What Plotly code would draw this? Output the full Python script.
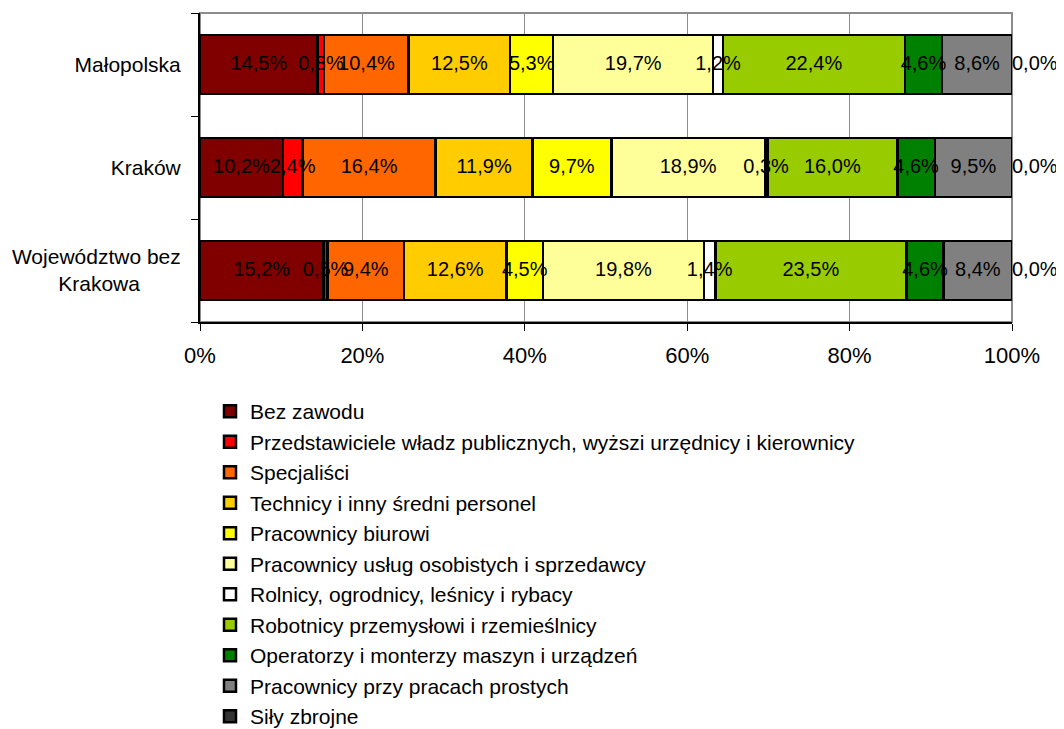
import plotly.graph_objects as go

categories = ["Małopolska", "Kraków", "Województwo bez Krakowa"]
category_labels = ["Małopolska", "Kraków", "Województwo bez<br>Krakowa" + "&nbsp;" * 7]

series_names = [
    "Bez zawodu",
    "Przedstawiciele władz publicznych, wyższi urzędnicy i kierownicy",
    "Specjaliści",
    "Technicy i inny średni personel",
    "Pracownicy biurowi",
    "Pracownicy usług osobistych i sprzedawcy",
    "Rolnicy, ogrodnicy, leśnicy i rybacy",
    "Robotnicy przemysłowi i rzemieślnicy",
    "Operatorzy i monterzy maszyn i urządzeń",
    "Pracownicy przy pracach prostych",
    "Siły zbrojne",
]

bez_zawodu = [14.5, 10.2, 15.2]
przedstawiciele = [0.8, 2.4, 0.5]
specjalisci = [10.4, 16.4, 9.4]
technicy = [12.5, 11.9, 12.6]
biurowi = [5.3, 9.7, 4.5]
uslug = [19.7, 18.9, 19.8]
rolnicy = [1.2, 0.3, 1.4]
robotnicy = [22.4, 16.0, 23.5]
operatorzy = [4.6, 4.6, 4.6]
proste = [8.6, 9.5, 8.4]
sily_zbrojne = [0.0, 0.0, 0.0]

series_values = [bez_zawodu, przedstawiciele, specjalisci, technicy, biurowi,
                 uslug, rolnicy, robotnicy, operatorzy, proste, sily_zbrojne]

colors = ["#800000", "#FF0000", "#FF6600", "#FFCC00", "#FFFF00", "#FFFF99",
          "#FFFFFF", "#99CC00", "#008000", "#808080", "#333333"]

x_ticks = [0, 20, 40, 60, 80, 100]
x_ticklabels = ["0%", "20%", "40%", "60%", "80%", "100%"]

FONT = "Liberation Sans, Arial, sans-serif"
LABEL_FS = 20
LEGEND_FS = 21
CAT_FS = 21
TICK_FS = 22

fig = go.Figure()

# bars (100% stacked via barnorm)
for i, (name, vals, col) in enumerate(zip(series_names, series_values, colors)):
    fig.add_trace(go.Bar(
        y=categories, x=vals, name=name, orientation="h",
        marker=dict(color=col, line=dict(color="black", width=2.5)),
        legendgroup=f"g{i}",
        hovertemplate="%{y}: %{x:.1f}%<extra>" + name + "</extra>",
    ))

# data labels drawn above all bars, centred in each normalised segment
totals = [sum(s[j] for s in series_values) for j in range(len(categories))]
cum = [0.0] * len(categories)
for i, (name, vals) in enumerate(zip(series_names, series_values)):
    norm = [v / t * 100 for v, t in zip(vals, totals)]
    mids = [min(round(c + n / 2, 6), 100.0) for c, n in zip(cum, norm)]
    cum = [c + n for c, n in zip(cum, norm)]
    last = (i == len(series_names) - 1)
    fig.add_trace(go.Scatter(
        y=categories, x=mids, mode="text",
        text=[f"{v:.1f}%".replace(".", ",") for v in vals],
        textposition="middle right" if last else "middle center",
        textfont=dict(family=FONT, size=LABEL_FS, color="black"),
        showlegend=False, hoverinfo="skip", cliponaxis=False,
    ))

fig.add_shape(type="rect", xref="paper", yref="paper", x0=0, x1=1, y0=0, y1=1,
              line=dict(color="#8c8c8c", width=2), layer="below")

W, H = 1056, 721
ML, MR, MT, MB = 192, 52, 5, 407
plot_w = W - ML - MR
plot_h = H - MT - MB
legend_left = 202
legend_top = 383

fig.update_layout(
    width=W, height=H,
    margin=dict(l=ML, r=MR, t=MT, b=MB, autoexpand=False),
    paper_bgcolor="white", plot_bgcolor="white",
    barmode="stack", barnorm="percent", bargap=0.43,
    font=dict(family=FONT, size=LEGEND_FS, color="black"),
    showlegend=True,
    legend=dict(
        xref="paper", yref="paper",
        x=(legend_left - ML) / plot_w, y=-(legend_top - (H - MB)) / plot_h,
        xanchor="left", yanchor="top",
        traceorder="grouped", tracegroupgap=0.2,
        font=dict(family=FONT, size=LEGEND_FS, color="black"),
        bgcolor="rgba(0,0,0,0)",
    ),
    xaxis=dict(
        range=[0, 100], tickvals=x_ticks, ticktext=x_ticklabels,
        showgrid=True, gridcolor="#8c8c8c", gridwidth=1.2,
        showline=True, linecolor="black", linewidth=2,
        ticks="outside", ticklen=7, tickcolor="black", tickwidth=1,
        ticklabelstandoff=6, zeroline=False, automargin=False,
        tickangle=0,
        tickfont=dict(family=FONT, size=TICK_FS, color="black"),
    ),
    yaxis=dict(
        autorange="reversed",
        tickvals=categories, ticktext=category_labels,
        tickson="boundaries",
        showline=True, linecolor="black", linewidth=2,
        ticks="outside", ticklen=7, tickcolor="black", tickwidth=1,
        ticklabelstandoff=13, showgrid=False, automargin=False,
        tickfont=dict(family=FONT, size=CAT_FS, color="black"),
    ),
)

fig.write_html("out.html")
